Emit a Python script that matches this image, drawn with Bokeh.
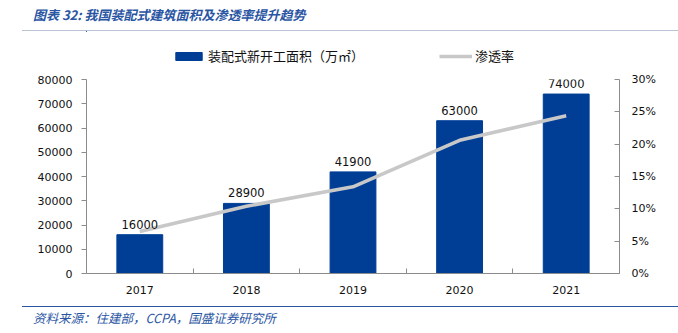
from bokeh.plotting import figure
from bokeh.models import (ColumnDataSource, Range1d, LinearAxis, FixedTicker,
                          NumeralTickFormatter, LabelSet, Legend, LegendItem, Div)
from bokeh.layouts import column
from bokeh.core.properties import value
from bokeh.embed import file_html
from bokeh.resources import INLINE

# ---- data ----
years = ["2017", "2018", "2019", "2020", "2021"]
area = [16000, 28900, 41900, 63000, 74000]          # 万㎡
rate = [0.065, 0.104, 0.134, 0.206, 0.244]          # 渗透率
left_ticks = [0, 10000, 20000, 30000, 40000, 50000, 60000, 70000, 80000]
right_ticks = [0, 0.05, 0.10, 0.15, 0.20, 0.25, 0.30]

title_text = "图表 32: 我国装配式建筑面积及渗透率提升趋势"
source_text = "资料来源：住建部，CCPA，国盛证券研究所"
bar_label = "装配式新开工面积（万㎡）"
line_label = "渗透率"

W = 678
CJK = "Noto Sans CJK SC"
NUM = "DejaVu Sans"
BLUE = "#003E96"
GREY = "#C8C8C8"
TXT_BLUE = "#2A55A3"
HH = 31      # header
LH = 40      # legend strip
FH = 27      # footer
BL, BR = 86, 59

# ---- header ----
header = Div(text=title_text, width=W - 22, height=HH, margin=(0, 0, 0, 22),
             styles={"font-family": CJK, "font-size": "13px", "font-style": "italic",
                     "font-weight": "bold", "color": TXT_BLUE, "padding-left": "11px",
                     "padding-top": "5px", "line-height": "19px",
                     "border-bottom": "1px solid #B9C3D6", "box-sizing": "border-box"})

idx = list(range(len(years)))
src = ColumnDataSource(dict(x=idx, area=area, rate=rate,
                            lab=[str(v) for v in area]))

# ---- legend strip (same series, kept out of view; only the legend shows) ----
lf = figure(width=W, height=LH, x_range=Range1d(100, 101),
            y_range=Range1d(-2, -1), x_axis_type=None, y_axis_type=None,
            toolbar_location=None, output_backend="svg",
            min_border_left=BL, min_border_right=BR, min_border_top=0,
            min_border_bottom=0, outline_line_color=None)
lf.xgrid.visible = False
lf.ygrid.visible = False
lbars = lf.vbar(x="x", top="area", bottom=0, width=0.43, source=src,
                fill_color=BLUE, line_color=BLUE)
lline = lf.line(x="x", y="rate", source=src, line_color=GREY, line_width=3.5)
legend = Legend(items=[LegendItem(label=bar_label, renderers=[lbars]),
                       LegendItem(label=line_label, renderers=[lline])],
                orientation="horizontal", location=(86, 6),
                padding=0, margin=0, spacing=75, glyph_width=33, glyph_height=10,
                label_height=14, label_standoff=3,
                label_text_font=CJK, label_text_font_size="13px",
                label_text_color="#111111",
                background_fill_alpha=0, border_line_color=None)
lf.add_layout(legend, "center")

# ---- main chart ----
p = figure(width=W, height=333 - HH - LH - FH, x_range=Range1d(-0.5, len(years) - 0.5),
           y_range=Range1d(0, 80000), toolbar_location=None, output_backend="svg",
           min_border_left=BL, min_border_right=BR, min_border_top=79 - HH - LH,
           min_border_bottom=33, outline_line_color=None, y_axis_location=None)
p.extra_y_ranges = {"pct": Range1d(0, 0.30)}
p.xgrid.visible = False
p.ygrid.visible = False

p.vbar(x="x", top="area", width=0.43, source=src, fill_color=BLUE, line_color=BLUE)
p.line(x="x", y="rate", source=src, y_range_name="pct", line_color=GREY,
       line_width=3.5)

p.add_layout(LabelSet(x="x", y="area", text="lab", source=src, y_offset=6,
                      text_align="center", text_baseline="bottom",
                      text_font=value(NUM), text_font_size="11.5px",
                      text_color="#111111"))

def style(ax):
    ax.axis_line_color = "#8C8C8C"
    ax.major_tick_line_color = "#8C8C8C"
    ax.minor_tick_line_color = "#8C8C8C"
    ax.major_label_text_font = NUM
    ax.major_label_text_font_size = "11px"
    ax.major_label_text_color = "#111111"

ly = LinearAxis(ticker=FixedTicker(ticks=left_ticks))
style(ly)
ly.major_tick_out = 5
ly.major_tick_in = 0
ly.minor_tick_out = 0
ly.major_label_standoff = 9
p.add_layout(ly, "left")

ry = LinearAxis(y_range_name="pct", ticker=FixedTicker(ticks=right_ticks),
                formatter=NumeralTickFormatter(format="0%"))
style(ry)
ry.major_tick_out = 0
ry.major_tick_in = 5
ry.minor_tick_out = 0
ry.major_label_standoff = 12
p.add_layout(ry, "right")

xa = p.xaxis[0]
xa.ticker = FixedTicker(ticks=idx, minor_ticks=[i - 0.5 for i in range(len(years) + 1)])
xa.major_label_overrides = {i: y for i, y in enumerate(years)}
style(xa)
xa.major_tick_in = 0
xa.major_tick_out = 0
xa.minor_tick_in = 5
xa.minor_tick_out = 0
xa.major_label_standoff = 12

# ---- footer ----
footer = Div(text=source_text, width=W - 22, height=FH, margin=(0, 0, 0, 22),
             styles={"font-family": CJK, "font-size": "12.5px", "font-style": "italic",
                     "color": TXT_BLUE, "padding-left": "11px", "padding-top": "2px",
                     "line-height": "18px", "border-top": "1.5px solid #2A55A3",
                     "box-sizing": "border-box"})

layout = column(header, lf, p, footer, spacing=0)
open("out.html", "w").write(file_html(layout, INLINE))
